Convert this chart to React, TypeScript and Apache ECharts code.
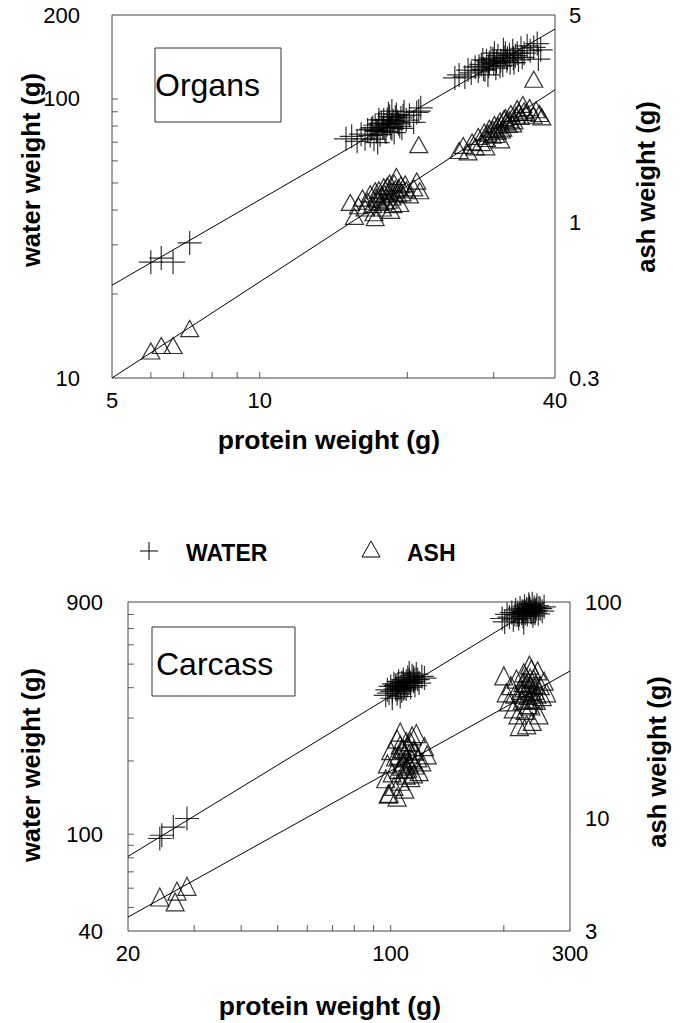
import React, { useEffect, useRef } from 'react';
import * as echarts from 'echarts';

// ---------- Organs (top panel) ----------
const organWater: number[][] = [
  [6.0, 26.0], [6.3, 26.9], [6.66, 26.0], [7.2, 30.5],
  [15.0, 72.0], [15.4, 73.5], [15.8, 70.5], [16.1, 74.8], [16.4, 72.0], [16.6, 77.5], [16.8, 74.0],
  [17.0, 79.0], [17.1, 71.8], [17.3, 76.5], [17.5, 81.5], [17.6, 74.5], [17.8, 78.8], [17.9, 84.0],
  [18.1, 76.2], [18.2, 81.0], [18.4, 86.5], [18.5, 79.0], [18.7, 83.5], [18.8, 75.8], [19.0, 88.0],
  [19.2, 81.5], [19.4, 85.5], [19.5, 78.5], [19.7, 90.0], [19.9, 84.0], [20.2, 87.5], [20.6, 82.5],
  [20.9, 89.5], [21.3, 93.0], [21.1, 90.5], [17.4, 69.8], [18.6, 90.5],
  [16.9, 78.0], [17.2, 80.5], [17.4, 77.0], [17.7, 82.0], [17.9, 79.5], [18.0, 76.8], [18.2, 84.5],
  [18.4, 81.8], [18.6, 78.2], [18.9, 86.0], [19.1, 82.8], [19.3, 79.8], [17.5, 84.2], [18.3, 88.5], [19.6, 87.0],
  [25.0, 119], [25.5, 122], [26.2, 120], [26.6, 127], [27.0, 124], [27.5, 130], [27.9, 126],
  [28.3, 133], [28.6, 128], [29.0, 137], [29.3, 131], [29.6, 140], [30.0, 134], [30.3, 129],
  [30.6, 143], [31.0, 137], [31.3, 132], [31.7, 146], [32.0, 140], [32.4, 135], [32.8, 149],
  [33.2, 143], [33.7, 138], [34.1, 152], [34.6, 146], [35.1, 155], [35.6, 149], [36.2, 153],
  [36.8, 158], [37.0, 139], [37.4, 150], [29.2, 122], [31.4, 150],
  [28.0, 131], [28.8, 127], [29.4, 135], [29.9, 139], [30.4, 136], [30.9, 131], [31.5, 141],
  [31.9, 137], [32.3, 144], [32.9, 140], [33.5, 146], [34.3, 141], [30.1, 146], [28.5, 138], [33.0, 135],
];
const organAsh: number[][] = [
  [6.0, 0.37], [6.3, 0.386], [6.66, 0.386], [7.2, 0.44],
  [15.3, 1.17], [15.6, 1.05], [15.9, 1.14], [16.2, 1.21], [16.4, 1.12], [16.6, 1.18], [16.8, 1.25],
  [17.0, 1.15], [17.1, 1.08], [17.3, 1.22], [17.5, 1.29], [17.6, 1.17], [17.8, 1.12], [18.0, 1.25],
  [18.2, 1.33], [18.3, 1.19], [18.5, 1.10], [18.6, 1.28], [18.8, 1.36], [19.0, 1.43], [19.2, 1.31],
  [19.3, 1.16], [19.5, 1.26], [19.8, 1.35], [20.2, 1.24], [20.6, 1.31], [20.9, 1.38], [21.2, 1.28],
  [17.2, 1.04], [18.4, 1.36], [21.1, 1.83],
  [17.4, 1.20], [17.7, 1.24], [18.0, 1.18], [18.3, 1.27], [18.6, 1.22], [18.9, 1.30], [19.1, 1.25],
  [17.9, 1.32], [18.7, 1.15], [19.4, 1.34], [17.2, 1.28], [19.9, 1.29],
  [25.5, 1.75], [26.0, 1.82], [26.6, 1.73], [27.1, 1.87], [27.5, 1.80], [27.9, 1.95], [28.3, 1.86],
  [28.7, 2.02], [29.0, 1.92], [29.4, 2.08], [29.8, 1.97], [30.1, 2.14], [30.5, 2.03], [30.9, 2.20],
  [31.3, 2.08], [31.7, 2.26], [32.1, 2.14], [32.5, 2.33], [33.0, 2.20], [33.5, 2.42], [34.0, 2.28],
  [34.4, 2.50], [34.9, 2.35], [35.5, 2.44], [36.1, 2.30], [36.6, 2.40], [37.2, 2.33], [37.6, 2.27],
  [28.9, 1.80], [31.0, 1.90], [36.2, 3.04],
  [29.2, 2.00], [29.9, 2.06], [30.6, 2.12], [31.1, 2.05], [31.8, 2.18], [32.3, 2.22], [32.8, 2.15],
  [33.3, 2.30], [33.8, 2.35], [34.6, 2.38], [30.3, 1.98], [31.5, 2.24],
];
const organWaterFit: number[][] = [[5, 21.5], [40, 178]];
const organAshFit: number[][] = [[5, 0.3], [40, 2.8]];
const organXTicks = [6, 7, 8, 9, 10, 20, 30];
const organYTicks = [20, 30, 40, 50, 60, 70, 80, 90, 100];

// ---------- Carcass (bottom panel) ----------
const carcassWater: number[][] = [
  [24.3, 96], [24.6, 99], [26.4, 107], [28.7, 116],
  [97, 372], [98, 392], [99, 380], [100, 405], [101, 386], [102, 415], [103, 395], [104, 378],
  [105, 425], [106, 402], [107, 388], [108, 432], [109, 410], [110, 395], [111, 440], [112, 418],
  [113, 402], [114, 448], [115, 425], [116, 408], [117, 455], [118, 432], [119, 418], [121, 445],
  [123, 438], [101, 362], [106, 368], [112, 460], [108, 420], [104, 410],
  [103, 408], [105, 398], [107, 418], [109, 400], [110, 425], [111, 408], [113, 420], [115, 440],
  [108, 395], [112, 430], [116, 432], [104, 392],
  [198, 770], [201, 745], [204, 800], [207, 780], [210, 815], [212, 760], [215, 835], [217, 795],
  [219, 770], [221, 850], [223, 810], [225, 785], [227, 865], [229, 825], [231, 800], [233, 880],
  [235, 840], [237, 815], [239, 790], [241, 855], [243, 830], [245, 870], [247, 805], [250, 845],
  [253, 825], [256, 860], [226, 740], [238, 885], [214, 800], [230, 845],
  [220, 800], [224, 825], [228, 810], [232, 835], [236, 820], [240, 830], [244, 845], [226, 820],
  [234, 860], [242, 810], [218, 815], [248, 850],
];
const carcassAsh: number[][] = [
  [24.3, 4.31], [26.7, 4.09], [27.0, 4.59], [28.7, 4.83],
  [97, 15.2], [98, 17.8], [99, 13.0], [100, 20.5], [101, 16.2], [102, 14.0], [103, 19.2], [104, 23.2],
  [105, 16.8], [106, 14.8], [107, 21.0], [108, 18.2], [109, 13.6], [110, 22.6], [111, 17.0], [112, 19.8],
  [113, 15.4], [114, 24.0], [115, 20.6], [116, 17.6], [117, 24.6], [118, 19.0], [119, 16.4], [121, 18.2],
  [123, 21.4], [125, 19.6], [98.5, 12.9], [104, 12.5], [110, 15.8], [106, 25.0],
  [105, 19.5], [107, 17.4], [108, 20.8], [110, 19.0], [111, 21.5], [112, 17.8], [113, 22.5], [109, 16.8],
  [106, 21.8], [114, 18.6], [116, 20.4], [115, 16.0],
  [200, 45.5], [203, 38], [206, 34.5], [209, 41], [212, 32], [214, 37.5], [216, 44], [218, 30],
  [220, 26.5], [222, 39], [224, 35], [226, 47], [228, 31.5], [230, 42], [232, 37], [234, 51],
  [236, 33], [238, 28], [240, 44], [242, 39], [244, 35], [246, 48], [248, 30], [250, 41],
  [253, 36.5], [256, 43], [260, 38], [230, 27], [237, 49], [226, 40],
  [225, 42.5], [228, 38], [231, 40], [233, 35.5], [235, 44.5], [238, 38.5], [240, 35.5], [243, 41.5],
  [236, 41], [229, 45], [245, 37.5], [232, 33.5],
];
const carcassWaterFit: number[][] = [[20, 81], [257, 900]];
const carcassAshFit: number[][] = [[20, 3.48], [300, 47.9]];
const carcassXTicks = [30, 40, 50, 60, 70, 80, 90, 100, 200];
const carcassYTicks = [50, 60, 70, 80, 90, 100, 200, 300, 400, 500, 600, 700, 800];

const FONT = '"Liberation Sans", Arial, Helvetica, sans-serif';
const PLUS = 'path://M0,10L20,10M10,0L10,20';
const HOLLOW = 'rgba(0,0,0,0)';

export default function App() {
  const ref = useRef<HTMLDivElement>(null);
  useEffect(() => {
    const chart = echarts.init(ref.current!, null, { renderer: 'svg' });

    const label = (margin: number, padding: number[] = [0, 0, 0, 0]) => ({
      fontSize: 22, color: '#000', fontFamily: FONT, margin, padding,
    });
    const logAxis = (gridIndex: number, min: number, max: number, axisLabel: any, position?: string) => ({
      type: 'log', logBase: 10, gridIndex, min, max, position,
      axisLine: { show: false }, axisTick: { show: false },
      splitLine: { show: false }, minorTick: { show: false }, minorSplitLine: { show: false },
      axisLabel,
    });
    const markers = (data: number[][], xi: number, yi: number, symbol: string, size: any) => ({
      type: 'scatter', xAxisIndex: xi, yAxisIndex: yi, data, symbol, symbolSize: size,
      itemStyle: { color: HOLLOW, borderColor: '#000', borderWidth: 1.2 }, silent: true,
    });
    const fit = (data: number[][], xi: number, yi: number) => ({
      type: 'line', xAxisIndex: xi, yAxisIndex: yi, data, symbol: 'none', showSymbol: false,
      lineStyle: { color: '#000', width: 1 }, silent: true, z: 1,
    });
    const ticks = (data: number[][], xi: number, yi: number, vertical: boolean) => ({
      type: 'scatter', xAxisIndex: xi, yAxisIndex: yi, data, symbol: 'rect',
      symbolSize: vertical ? [1, 6] : [6, 1], symbolOffset: vertical ? [0, -3] : [3, 0],
      itemStyle: { color: '#333' }, silent: true, clip: false, z: 3,
    });
    const title = (text: string, x: number, y: number, rotate: boolean) => ({
      type: 'text', x, y, rotation: rotate ? Math.PI / 2 : 0,
      style: {
        text, fontFamily: FONT, fontSize: rotate ? 25.5 : 26.5, fontWeight: 'bold', fill: '#000',
        align: 'center', verticalAlign: 'middle',
      },
    });

    chart.setOption({
      animation: false,
      backgroundColor: '#fff',
      grid: [
        { left: 112, top: 15, width: 443, height: 363, show: true, borderColor: '#444', borderWidth: 1, backgroundColor: 'transparent', outerBoundsMode: 'none' },
        { left: 128, top: 602, width: 442, height: 329, show: true, borderColor: '#444', borderWidth: 1, backgroundColor: 'transparent', outerBoundsMode: 'none' },
      ],
      xAxis: [
        logAxis(0, 5, 40, label(11)),
        logAxis(1, 20, 300, label(11)),
      ],
      yAxis: [
        logAxis(0, 10, 200, label(32, [4, 0, 0, 0]), 'left'),
        logAxis(0, 0.3, 5, label(14, [4, 0, 0, 0]), 'right'),
        logAxis(1, 40, 900, label(25, [16, 0, 0, 0]), 'left'),
        logAxis(1, 3, 100, label(15, [16, 0, 0, 0]), 'right'),
      ],
      series: [
        fit(organWaterFit, 0, 0),
        fit(organAshFit, 0, 1),
        markers(organWater, 0, 0, PLUS, 24),
        markers(organAsh, 0, 1, 'triangle', [18, 16]),
        ticks(organXTicks.map((v) => [v, 10]), 0, 0, true),
        ticks(organYTicks.map((v) => [5, v]), 0, 0, false),
        fit(carcassWaterFit, 1, 2),
        fit(carcassAshFit, 1, 3),
        markers(carcassWater, 1, 2, PLUS, 24),
        markers(carcassAsh, 1, 3, 'triangle', [18, 18]),
        ticks(carcassXTicks.map((v) => [v, 40]), 1, 2, true),
        ticks(carcassYTicks.map((v) => [20, v]), 1, 2, false),
      ],
      graphic: [
        { type: 'rect', shape: { x: 155, y: 48, width: 126, height: 74 }, style: { fill: 'none', stroke: '#333', lineWidth: 1 } },
        { type: 'text', x: 155, y: 85, style: { text: 'Organs', fontFamily: FONT, fontSize: 32, fill: '#000', verticalAlign: 'middle' } },
        { type: 'rect', shape: { x: 152, y: 627, width: 143, height: 69 }, style: { fill: 'none', stroke: '#333', lineWidth: 1 } },
        { type: 'text', x: 156, y: 664, style: { text: 'Carcass', fontFamily: FONT, fontSize: 32, fill: '#000', verticalAlign: 'middle' } },
        title('water weight (g)', 31, 170, true),
        title('ash weight (g)', 646, 187, true),
        title('protein weight (g)', 329, 440, false),
        title('water weight (g)', 31, 765, true),
        title('ash weight (g)', 657, 762, true),
        title('protein weight (g)', 330, 1006, false),
        // legend
        { type: 'line', shape: { x1: 140, y1: 551, x2: 158, y2: 551 }, style: { stroke: '#000', lineWidth: 1 } },
        { type: 'line', shape: { x1: 149, y1: 542, x2: 149, y2: 560 }, style: { stroke: '#000', lineWidth: 1 } },
        { type: 'text', x: 186, y: 553, style: { text: 'WATER', fontFamily: FONT, fontSize: 23, fontWeight: 'bold', fill: '#000', verticalAlign: 'middle' } },
        { type: 'polygon', shape: { points: [[362, 557], [380, 557], [371, 541]] }, style: { fill: 'none', stroke: '#000', lineWidth: 1 } },
        { type: 'text', x: 407, y: 553, style: { text: 'ASH', fontFamily: FONT, fontSize: 23, fontWeight: 'bold', fill: '#000', verticalAlign: 'middle' } },
      ],
    });
    return () => chart.dispose();
  }, []);
  return <div ref={ref} style={{ position: 'absolute', left: 0, top: 0, width: 685, height: 1023 }} />;
}
